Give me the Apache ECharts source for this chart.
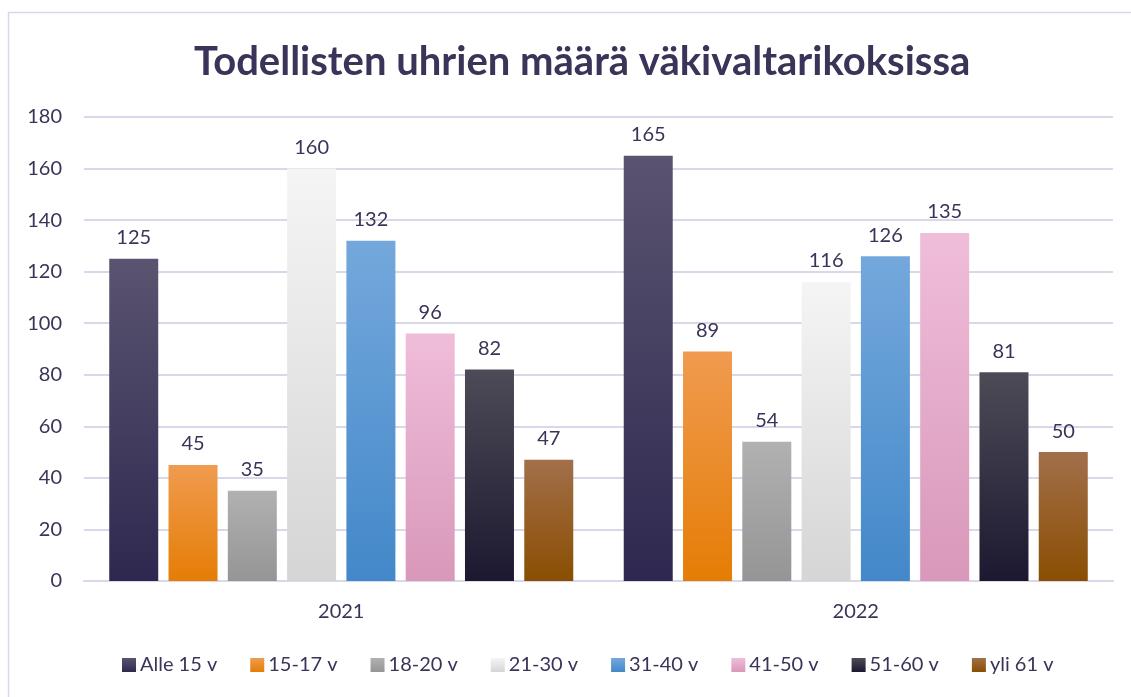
<!DOCTYPE html>
<html>
<head>
<meta charset="utf-8">
<script src="https://cdn.jsdelivr.net/npm/echarts@6/dist/echarts.min.js"></script>
<style>
html,body{margin:0;padding:0;background:#fff;}
#chart{width:1131px;height:697px;}
</style>
</head>
<body>
<div id="chart"></div>
<script>
const categories = ['2021', '2022'];
const seriesNames = ['Alle 15 v', '15-17 v', '18-20 v', '21-30 v', '31-40 v', '41-50 v', '51-60 v', 'yli 61 v'];
const alle15 = [125, 165];
const v15_17 = [45, 89];
const v18_20 = [35, 54];
const v21_30 = [160, 116];
const v31_40 = [132, 126];
const v41_50 = [96, 135];
const v51_60 = [82, 81];
const yli61 = [47, 50];
const seriesValues = [alle15, v15_17, v18_20, v21_30, v31_40, v41_50, v51_60, yli61];
const gradients = [
  ['#5a5470', '#2e2850'],
  ['#f09b50', '#e57d05'],
  ['#b1b1b1', '#959595'],
  ['#f5f5f5', '#d5d5d5'],
  ['#74a8dc', '#4388c9'],
  ['#efbdda', '#d998b9'],
  ['#4d4b57', '#1c1830'],
  ['#a26f4a', '#8a4e02']
];
const textColor = '#3b3358';
const fontFam = 'Lato, "Open Sans", sans-serif';

const chart = echarts.init(document.getElementById('chart'), null, {renderer: 'canvas'});
function grad(c) {
  return new echarts.graphic.LinearGradient(0, 0, 0, 1, [{offset: 0, color: c[0]}, {offset: 1, color: c[1]}]);
}
const option = {
  backgroundColor: '#ffffff',
  animation: false,
  title: {
    text: 'Todellisten uhrien määrä väkivaltarikoksissa',
    left: 189,
    top: 37,
    textStyle: {color: textColor, fontSize: 40, fontWeight: 'bold', fontFamily: fontFam}
  },
  graphic: [{
    type: 'rect',
    shape: {x: 8.5, y: 12.5, width: 1200, height: 800},
    style: {fill: 'none', stroke: '#dad7ea', lineWidth: 1.5},
    silent: true
  }],
  legend: {
    bottom: 17,
    left: 117,
    itemWidth: 14,
    itemHeight: 14,
    itemGap: 33,
    icon: 'rect',
    textStyle: {color: textColor, fontSize: 20, fontFamily: fontFam, padding: [0, 0, 0, -1]},
    data: seriesNames
  },
  grid: {left: 84, right: 18, top: 117, bottom: 116, containLabel: false},
  xAxis: {
    type: 'category',
    data: categories,
    axisLine: {show: true, lineStyle: {color: '#dad7ea', width: 2}},
    axisTick: {show: false},
    axisLabel: {color: textColor, fontSize: 20, fontFamily: fontFam, margin: 21}
  },
  yAxis: {
    type: 'value',
    min: 0,
    max: 180,
    interval: 20,
    axisLine: {show: false},
    axisTick: {show: false},
    axisLabel: {color: textColor, fontSize: 20, fontFamily: fontFam, margin: 22},
    splitLine: {lineStyle: {color: '#dad7ea', width: 2}}
  },
  series: seriesNames.map((name, i) => ({
    name: name,
    type: 'bar',
    data: seriesValues[i],
    barWidth: 49,
    barGap: '21%',
    itemStyle: {color: grad(gradients[i])},
    label: {
      show: true,
      position: 'top',
      distance: 11,
      color: textColor,
      fontSize: 20,
      fontFamily: fontFam
    }
  }))
};
chart.setOption(option);
</script>
</body>
</html>
